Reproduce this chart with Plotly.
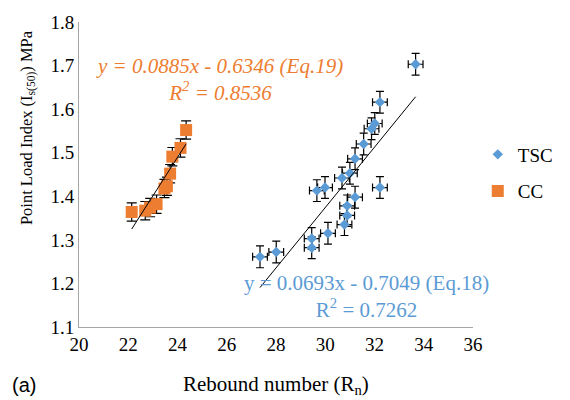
import plotly.graph_objects as go

# ---- data ----
tsc_rn = [33.67, 32.22, 32.01, 31.88, 31.56, 31.21, 31.00, 30.68, 29.99, 29.66,
          32.22, 31.21, 30.89, 30.89, 30.78, 30.11, 29.45, 29.45, 28.01, 27.35]
tsc_is = [1.703, 1.616, 1.567, 1.555, 1.520, 1.486, 1.453, 1.442, 1.420, 1.413,
          1.420, 1.398, 1.378, 1.356, 1.335, 1.315, 1.303, 1.282, 1.272, 1.261]
tsc_err_x = 0.3
tsc_err_y = 0.025

cc_rn = [22.14, 22.69, 22.89, 23.15, 23.47, 23.57, 23.70, 23.79, 24.12, 24.35]
cc_is = [1.364, 1.367, 1.374, 1.382, 1.418, 1.423, 1.452, 1.491, 1.511, 1.552]
cc_err_y = 0.021

tsc_fit = (0.0693, -0.7049)
cc_fit = (0.0885, -0.6346)

x_ticks = [20, 22, 24, 26, 28, 30, 32, 34, 36]
y_ticks = [1.1, 1.2, 1.3, 1.4, 1.5, 1.6, 1.7, 1.8]

BLUE = "#5B9BD5"
ORANGE = "#ED7D31"
SERIF = "Liberation Serif"

fig = go.Figure()

fig.add_trace(go.Scatter(
    x=tsc_rn, y=tsc_is, mode="markers", name="TSC", legendgroup="a",
    marker=dict(symbol="diamond", size=8, color=BLUE),
    error_x=dict(type="constant", value=tsc_err_x, color="black", thickness=1.2, width=4),
    error_y=dict(type="constant", value=tsc_err_y, color="black", thickness=1.2, width=4),
))
fig.add_trace(go.Scatter(
    x=cc_rn, y=cc_is, mode="markers", name="CC", legendgroup="b",
    marker=dict(symbol="square", size=12, color=ORANGE),
    error_y=dict(type="constant", value=cc_err_y, color="black", thickness=1.2, width=5),
))

for xs, (m, c) in ((tsc_rn, tsc_fit), (cc_rn, cc_fit)):
    x0, x1 = min(xs), max(xs)
    fig.add_trace(go.Scatter(
        x=[x0, x1], y=[m * x0 + c, m * x1 + c], mode="lines",
        line=dict(color="black", width=1), showlegend=False, hoverinfo="skip",
    ))

L, R, T, B = 79, 78, 18, 73
W, H = 570, 400
pw, ph = W - L - R, H - T - B

def px(xp):
    return (xp - L) / pw

def py(yp):
    return (H - B - yp) / ph

annos = [
    dict(x=25.70, y=1.668, xref="x", yref="y", align="center",
         text="<i>y = 0.0885x - 0.6346 (Eq.19)</i><br><i>R<sup>2</sup> = 0.8536</i>",
         font=dict(color=ORANGE, size=21, family=SERIF)),
    dict(x=31.67, y=1.170, xref="x", yref="y", align="center",
         text="y = 0.0693x - 0.7049 (Eq.18)<br>R<sup>2</sup> = 0.7262",
         font=dict(color=BLUE, size=21, family=SERIF)),
    dict(x=px(285), y=py(386), xref="paper", yref="paper",
         text="Rebound number (R<sub>n</sub>)", font=dict(color="black", size=21, family=SERIF)),
    dict(x=px(25), y=py(125), xref="paper", yref="paper", textangle=-90,
         text="Point Load Index (I<sub>s(50)</sub>) MPa", font=dict(color="black", size=16.5, family=SERIF)),
    dict(x=px(21), y=py(386), xref="paper", yref="paper",
         text="(a)", font=dict(color="black", size=20, family="Liberation Sans")),
]
for a in annos:
    a.update(showarrow=False, xanchor="center", yanchor="middle")

fig.update_layout(
    width=W, height=H,
    margin=dict(l=L, r=R, t=T, b=B),
    paper_bgcolor="white", plot_bgcolor="white",
    font=dict(family=SERIF, size=19, color="black"),
    showlegend=True,
    legend=dict(x=px(497), y=py(133), xanchor="left", yanchor="top",
                font=dict(size=19, family=SERIF), traceorder="grouped",
                tracegroupgap=9, bgcolor="rgba(0,0,0,0)", itemwidth=30),
    annotations=annos,
)
fig.update_xaxes(range=[20, 36], tickvals=x_ticks, ticktext=[str(v) for v in x_ticks],
                 showgrid=False, zeroline=False, showline=True, linecolor="#A6A6A6",
                 linewidth=1, ticks="", tickfont=dict(size=19, family=SERIF))
fig.update_yaxes(range=[1.1, 1.8], tickvals=y_ticks, ticktext=[f"{v:.1f}" for v in y_ticks],
                 showgrid=False, zeroline=False, showline=True, linecolor="#A6A6A6",
                 linewidth=1, ticks="", tickfont=dict(size=19, family=SERIF))

fig.write_html("out.html",
               config={"displayModeBar": False},
               post_script="document.body.style.margin='0';document.body.style.overflow='hidden';")
